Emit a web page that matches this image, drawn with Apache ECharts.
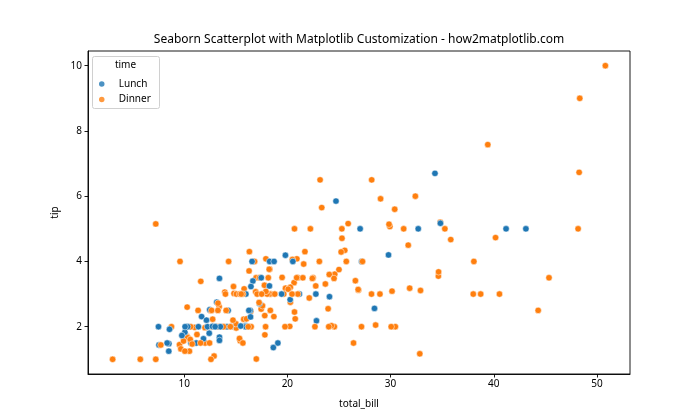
<!DOCTYPE html>
<html><head><meta charset="utf-8">
<script src="https://cdn.jsdelivr.net/npm/echarts@6/dist/echarts.min.js"></script>
<style>html,body{margin:0;padding:0;background:#fff}#c{width:700px;height:420px}</style>
</head><body><div id="c"></div>
<script>
const totalBill = [16.99,10.34,21.01,23.68,24.59,25.29,8.77,26.88,15.04,14.78,10.27,35.26,15.42,18.43,14.83,21.58,10.33,16.29,16.97,20.65,
17.92,20.29,15.77,39.42,19.82,17.81,13.37,12.69,21.7,19.65,9.55,18.35,15.06,20.69,17.78,24.06,16.31,16.93,18.69,31.27,
16.04,17.46,13.94,9.68,30.4,18.29,22.23,32.4,28.55,18.04,12.54,10.29,34.81,9.94,25.56,19.49,38.01,26.41,11.24,48.27,
20.29,13.81,11.02,18.29,17.59,20.08,16.45,3.07,20.23,15.01,12.02,17.07,26.86,25.28,14.73,10.51,17.92,27.2,22.76,17.29,
19.44,16.66,10.07,32.68,15.98,34.83,13.03,18.28,24.71,21.16,28.97,22.49,5.75,16.32,22.75,40.17,27.28,12.03,21.01,12.46,
11.35,15.38,44.3,22.42,20.92,15.36,20.49,25.21,18.24,14.31,14.0,7.25,38.07,23.95,25.71,17.31,29.93,10.65,12.43,24.08,
11.69,13.42,14.26,15.95,12.48,29.8,8.52,14.52,11.38,22.82,19.08,20.27,11.17,12.26,18.26,8.51,10.33,14.15,16.0,13.16,
17.47,34.3,41.19,27.05,16.43,8.35,18.64,11.87,9.78,7.51,14.07,13.13,17.26,24.55,19.77,29.85,48.17,25.0,13.39,16.49,
21.5,12.66,16.21,13.81,17.51,24.52,20.76,31.71,10.59,10.63,50.81,15.81,7.25,31.85,16.82,32.9,17.89,14.48,9.6,34.63,
34.65,23.33,45.35,23.17,40.55,20.69,20.9,30.46,18.15,23.1,15.69,19.81,28.44,15.48,16.58,7.56,10.34,43.11,13.0,13.51,
18.71,12.74,13.0,16.4,20.53,16.47,26.59,38.73,24.27,12.76,30.06,25.89,48.33,13.27,28.17,12.9,28.15,11.59,7.74,30.14,
12.16,13.42,8.58,15.98,13.42,16.27,10.09,20.45,13.28,22.12,24.01,15.69,11.61,10.77,15.53,10.07,12.6,32.83,35.83,29.03,
27.18,22.67,17.82,18.78];
const tip = [1.01,1.66,3.5,3.31,3.61,4.71,2.0,3.12,1.96,3.23,1.71,5.0,1.57,3.0,3.02,3.92,1.67,3.71,3.5,3.35,
4.08,2.75,2.23,7.58,3.18,2.34,2.0,2.0,4.3,3.0,1.45,2.5,3.0,2.45,3.27,3.6,2.0,3.07,2.31,5.0,
2.24,2.54,3.06,1.32,5.6,3.0,5.0,6.0,2.05,3.0,2.5,2.6,5.2,1.56,4.34,3.51,3.0,1.5,1.76,6.73,
3.21,2.0,1.98,3.76,2.64,3.15,2.47,1.0,2.01,2.09,1.97,3.0,3.14,5.0,2.2,1.25,3.08,4.0,3.0,2.71,
3.0,3.4,1.83,5.0,2.03,5.17,2.0,4.0,5.85,3.0,3.0,3.5,1.0,4.3,3.25,4.73,4.0,1.5,3.0,1.5,
2.5,3.0,2.5,3.48,4.08,1.64,4.06,4.29,3.76,4.0,3.0,1.0,4.0,2.55,4.0,3.5,5.07,1.5,1.8,2.92,
2.31,1.68,2.5,2.0,2.52,4.2,1.48,2.0,2.0,2.18,1.5,2.83,1.5,2.0,3.25,1.25,2.0,2.0,2.0,2.75,
3.5,6.7,5.0,5.0,2.3,1.5,1.36,1.63,1.73,2.0,2.5,2.0,2.74,2.0,2.0,5.14,5.0,3.75,2.61,2.0,
3.5,2.5,2.0,2.0,3.0,3.48,2.24,4.5,1.61,2.0,10.0,3.16,5.15,3.18,4.0,3.11,2.0,2.0,4.0,3.55,
3.68,5.65,3.5,6.5,3.0,5.0,3.5,2.0,3.5,4.0,1.5,4.19,2.56,2.02,4.0,1.44,2.0,5.0,2.0,2.0,
4.0,2.01,2.0,2.5,4.0,3.23,3.41,3.0,2.03,2.23,2.0,5.16,9.0,2.5,6.5,1.1,3.0,1.5,1.44,3.09,
2.2,3.48,1.92,3.0,1.58,2.5,2.0,3.0,2.72,2.88,2.0,3.0,3.39,1.47,3.0,1.25,1.0,1.17,4.67,5.92,
2.0,2.0,1.75,3.0];
const time = [
'Dinner','Dinner','Dinner','Dinner','Dinner','Dinner','Dinner','Dinner','Dinner','Dinner','Dinner','Dinner','Dinner','Dinner','Dinner','Dinner','Dinner','Dinner','Dinner','Dinner',
'Dinner','Dinner','Dinner','Dinner','Dinner','Dinner','Dinner','Dinner','Dinner','Dinner','Dinner','Dinner','Dinner','Dinner','Dinner','Dinner','Dinner','Dinner','Dinner','Dinner',
'Dinner','Dinner','Dinner','Dinner','Dinner','Dinner','Dinner','Dinner','Dinner','Dinner','Dinner','Dinner','Dinner','Dinner','Dinner','Dinner','Dinner','Dinner','Dinner','Dinner',
'Dinner','Dinner','Dinner','Dinner','Dinner','Dinner','Dinner','Dinner','Dinner','Dinner','Dinner','Dinner','Dinner','Dinner','Dinner','Dinner','Dinner','Lunch','Lunch','Lunch',
'Lunch','Lunch','Lunch','Lunch','Lunch','Lunch','Lunch','Lunch','Lunch','Lunch','Dinner','Dinner','Dinner','Dinner','Dinner','Dinner','Dinner','Dinner','Dinner','Dinner',
'Dinner','Dinner','Dinner','Dinner','Dinner','Dinner','Dinner','Dinner','Dinner','Dinner','Dinner','Dinner','Dinner','Dinner','Dinner','Dinner','Dinner','Lunch','Lunch','Lunch',
'Lunch','Lunch','Lunch','Lunch','Lunch','Lunch','Lunch','Lunch','Lunch','Lunch','Lunch','Lunch','Lunch','Lunch','Lunch','Lunch','Lunch','Lunch','Lunch','Lunch',
'Lunch','Lunch','Lunch','Lunch','Lunch','Lunch','Lunch','Lunch','Lunch','Lunch','Dinner','Dinner','Dinner','Dinner','Dinner','Dinner','Dinner','Dinner','Dinner','Dinner',
'Dinner','Dinner','Dinner','Dinner','Dinner','Dinner','Dinner','Dinner','Dinner','Dinner','Dinner','Dinner','Dinner','Dinner','Dinner','Dinner','Dinner','Dinner','Dinner','Dinner',
'Dinner','Dinner','Dinner','Dinner','Dinner','Dinner','Dinner','Dinner','Dinner','Dinner','Dinner','Lunch','Lunch','Lunch','Lunch','Lunch','Lunch','Lunch','Lunch','Lunch',
'Lunch','Lunch','Lunch','Lunch','Lunch','Lunch','Dinner','Dinner','Dinner','Dinner','Dinner','Dinner','Dinner','Dinner','Dinner','Dinner','Dinner','Dinner','Dinner','Dinner',
'Lunch','Lunch','Lunch','Lunch','Lunch','Lunch','Lunch','Dinner','Dinner','Dinner','Dinner','Dinner','Dinner','Dinner','Dinner','Dinner','Dinner','Dinner','Dinner','Dinner',
'Dinner','Dinner','Dinner','Dinner'];
const timeLevels = ['Lunch','Dinner'];
const xTicks = [10,20,30,40,50];
const yTicks = [2,4,6,8,10];
const titleText = 'Seaborn Scatterplot with Matplotlib Customization - how2matplotlib.com';

const palette = {Lunch:'#1f77b4', Dinner:'#ff7f0e'};
const FONT = '"Noto Sans", "Open Sans", sans-serif';
const points = totalBill.map((b,i)=>({value:[b, tip[i]], itemStyle:{color: palette[time[i]]}}));

const chart = echarts.init(document.getElementById('c'), null, {renderer:'canvas'});
chart.setOption({
  animation:false,
  backgroundColor:'#fff',
  textStyle:{fontFamily:FONT},
  grid:{left:88, right:70, top:51, bottom:46, show:true, borderColor:'#000', borderWidth:0.9, backgroundColor:'transparent'},
  xAxis:{type:'value', min:0.683, max:53.197,
    name:'total_bill', nameLocation:'middle', nameGap:25, nameTextStyle:{fontSize:10, color:'#000', fontFamily:FONT},
    axisLine:{show:true, lineStyle:{color:'#000', width:0.9}},
    axisTick:{show:true, length:3.5, lineStyle:{color:'#000', width:0.9}, customValues:xTicks},
    axisLabel:{fontSize:10, color:'#000', margin:5, fontFamily:FONT, customValues:xTicks},
    splitLine:{show:false}},
  yAxis:{type:'value', min:0.55, max:10.45,
    name:'tip', nameLocation:'middle', nameGap:24, nameTextStyle:{fontSize:10, color:'#000', fontFamily:FONT},
    axisLine:{show:true, lineStyle:{color:'#000', width:0.9}},
    axisTick:{show:true, length:3.5, lineStyle:{color:'#000', width:0.9}, customValues:yTicks},
    axisLabel:{fontSize:10, color:'#000', margin:6, fontFamily:FONT, customValues:yTicks},
    splitLine:{show:false}},
  legend:{orient:'vertical', left:94, top:74, itemWidth:24, itemHeight:5.5, itemGap:5.5, icon:'circle',
    data:timeLevels, textStyle:{fontSize:10, color:'#000', fontFamily:FONT}, z:5},
  graphic:[
    {type:'rect', z:4, shape:{x:92.5, y:56.5, width:67, height:52, r:2}, style:{fill:'rgba(255,255,255,0.8)', stroke:'#d0d0d0', lineWidth:1}},
    {type:'text', z:5, x:125.5, y:65, style:{text:'time', font:'10px '+FONT, fill:'#000', align:'center', verticalAlign:'middle'}},
    {type:'text', z:5, x:359, y:40, style:{text:titleText, font:'12px '+FONT, fill:'#000', align:'center', verticalAlign:'middle'}}
  ],
  series:[
    {name:'Lunch', type:'scatter', data:[], itemStyle:{color:palette.Lunch}},
    {name:'Dinner', type:'scatter', data:[], itemStyle:{color:palette.Dinner}},
    {name:'all', type:'scatter', data:points, symbolSize:6.4, itemStyle:{borderColor:'#fff', borderWidth:0.5, opacity:1}, z:2}
  ]
});
</script></body></html>
